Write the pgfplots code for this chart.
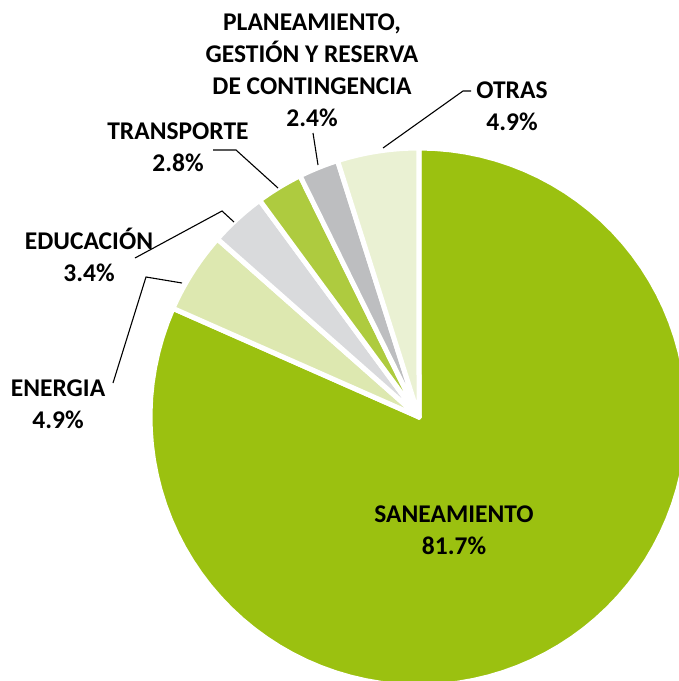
\documentclass[border=0pt]{standalone}
\usepackage{pgfplots}
\pgfplotsset{compat=1.18}
\usepackage{fontspec}
\setmainfont{Carlito}
\definecolor{cSan}{RGB}{155,193,16}
\definecolor{cEne}{RGB}{221,232,176}
\definecolor{cEdu}{RGB}{217,218,220}
\definecolor{cTra}{RGB}{174,203,63}
\definecolor{cPla}{RGB}{189,190,192}
\definecolor{cOtr}{RGB}{234,241,211}
% data (percent)
\def\vSan{81.7}
\def\vEne{4.9}
\def\vEdu{3.4}
\def\vTra{2.8}
\def\vPla{2.4}
\def\vOtr{4.9}
\pgfmathsetmacro\tot{\vSan+\vEne+\vEdu+\vTra+\vPla+\vOtr}
\pgfmathsetmacro\bA{90}
\pgfmathsetmacro\bB{\bA-360*(\vSan/\tot)}
\pgfmathsetmacro\bC{\bB-360*(\vEne/\tot)}
\pgfmathsetmacro\bD{\bC-360*(\vEdu/\tot)}
\pgfmathsetmacro\bE{\bD-360*(\vTra/\tot)}
\pgfmathsetmacro\bF{\bE-360*(\vPla/\tot)}
\pgfmathsetmacro\bG{\bF-360*(\vOtr/\tot)}
\def\cx{419}
\def\cy{417}
\def\R{269}
\begin{document}
\begin{tikzpicture}
\useasboundingbox (0,0) rectangle (679pt,681pt);
\begin{axis}[width=679pt, height=681pt, scale only axis, at={(0,0)}, anchor=south west,
  xmin=0, xmax=679, ymin=0, ymax=681, y dir=reverse,
  hide axis, clip=true,
  every axis plot/.append style={draw=white, line width=5pt, line join=round, samples=90, variable=\t, mark=none}]
\addplot[fill=cSan, domain=\bB:\bA] ({\cx+\R*cos(\t)},{\cy-\R*sin(\t)}) -- (axis cs:\cx,\cy) -- cycle;
\addplot[fill=cEne, domain=\bC:\bB, samples=20] ({\cx+\R*cos(\t)},{\cy-\R*sin(\t)}) -- (axis cs:\cx,\cy) -- cycle;
\addplot[fill=cEdu, domain=\bD:\bC, samples=20] ({\cx+\R*cos(\t)},{\cy-\R*sin(\t)}) -- (axis cs:\cx,\cy) -- cycle;
\addplot[fill=cTra, domain=\bE:\bD, samples=20] ({\cx+\R*cos(\t)},{\cy-\R*sin(\t)}) -- (axis cs:\cx,\cy) -- cycle;
\addplot[fill=cPla, domain=\bF:\bE, samples=20] ({\cx+\R*cos(\t)},{\cy-\R*sin(\t)}) -- (axis cs:\cx,\cy) -- cycle;
\addplot[fill=cOtr, domain=\bG:\bF, samples=20] ({\cx+\R*cos(\t)},{\cy-\R*sin(\t)}) -- (axis cs:\cx,\cy) -- cycle;
% leader lines
\draw[black, line width=1.1pt] (axis cs:383,148) -- (axis cs:463,91) -- (axis cs:471,91);
\draw[black, line width=1.1pt] (axis cs:313,133) -- (axis cs:318,165);
\draw[black, line width=1.1pt] (axis cs:213,150) -- (axis cs:236,150) -- (axis cs:278,188);
\draw[black, line width=1.1pt] (axis cs:135,258) -- (axis cs:222,211) -- (axis cs:234,222);
\draw[black, line width=1.1pt] (axis cs:113,383) -- (axis cs:146,277) -- (axis cs:182,283);
% labels
\begin{scope}[every node/.style={font=\fontsize{25.5}{32}\selectfont\bfseries, align=center, inner sep=0pt, anchor=center}]
\node at (axis cs:312,70) {PLANEAMIENTO,\\GESTIÓN Y RESERVA\\DE CONTINGENCIA\\2.4\%};
\node at (axis cs:512,106) {OTRAS\\4.9\%};
\node at (axis cs:178,147) {TRANSPORTE\\2.8\%};
\node at (axis cs:89,255) {EDUCACIÓN\\3.4\%};
\node at (axis cs:58,404) {ENERGIA\\4.9\%};
\node at (axis cs:454,530) {SANEAMIENTO\\81.7\%};
\end{scope}
\end{axis}
\end{tikzpicture}
\end{document}
